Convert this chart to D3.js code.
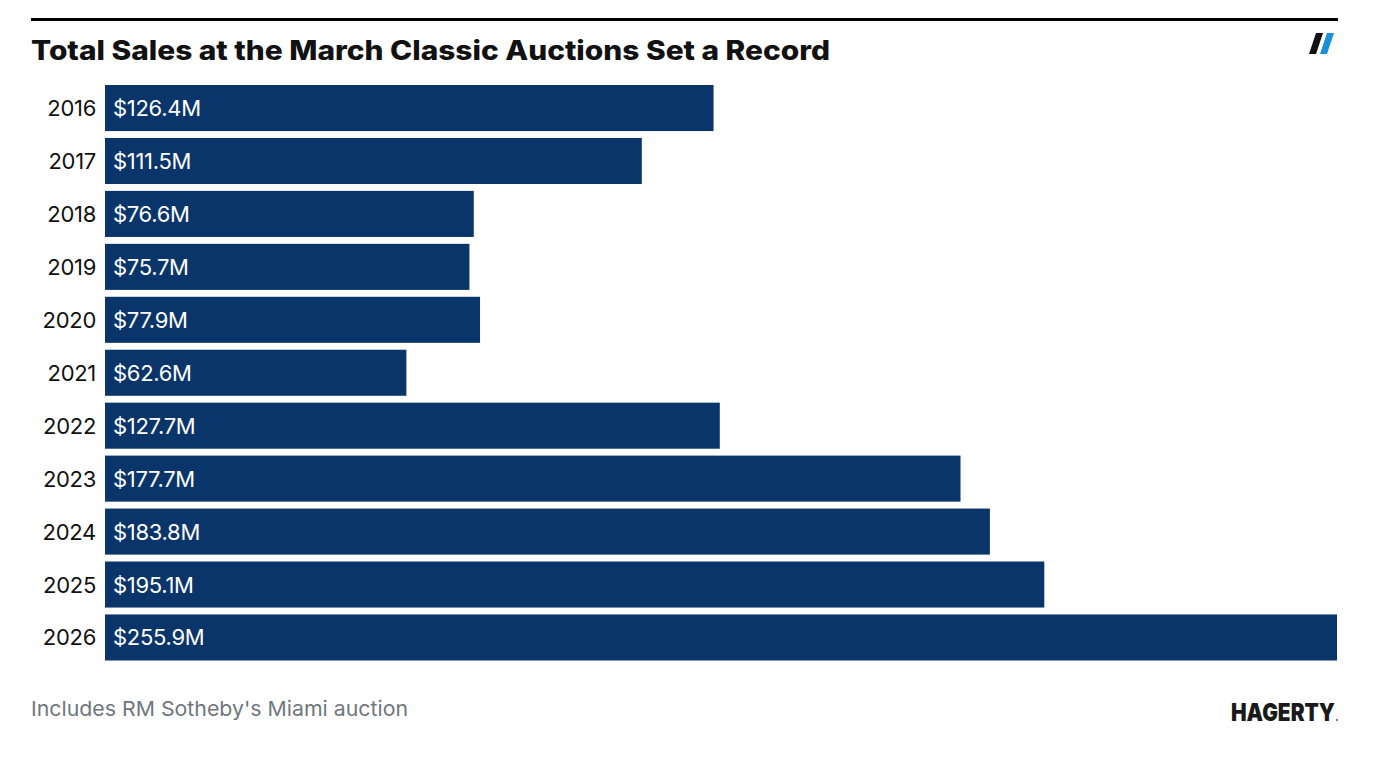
<!DOCTYPE html>
<html><head><meta charset="utf-8">
<script src="https://cdn.jsdelivr.net/npm/d3@7"></script>
<style>html,body{margin:0;padding:0;background:#fff;}svg{display:block;}</style>
</head><body>
<svg id="chart" width="1374" height="758"></svg>
<script>
const years = ["2016","2017","2018","2019","2020","2021","2022","2023","2024","2025","2026"];
const sales = [126.4,111.5,76.6,75.7,77.9,62.6,127.7,177.7,183.8,195.1,255.9];
const valueLabels = ["$126.4M","$111.5M","$76.6M","$75.7M","$77.9M","$62.6M","$127.7M","$177.7M","$183.8M","$195.1M","$255.9M"];
const title = "Total Sales at the March Classic Auctions Set a Record";
const note = "Includes RM Sotheby's Miami auction";

const svg = d3.select("#chart");
const font = "Inter, 'Noto Sans', sans-serif";

// top rule
svg.append("rect").attr("x",31).attr("y",18).attr("width",1307).attr("height",3).attr("fill","#000");
svg.append("text").attr("x",31).attr("y",60).text(title)
  .attr("font-family",font).attr("font-weight",800).attr("font-size",27).attr("fill","#111")
  .attr("textLength",799).attr("lengthAdjust","spacingAndGlyphs");

// slash logo
const logo = svg.append("g");
logo.append("path").attr("d","M1316,33 L1323,33 L1316,54 L1309,54 Z").attr("fill","#111");
logo.append("path").attr("d","M1327,33 L1334,33 L1327,54 L1320,54 Z").attr("fill","#1b8fd8");

const x = d3.scaleLinear().domain([0, d3.max(sales)]).range([105, 1337]);
const y = d3.scaleBand().domain(years).range([85, 660.5]).paddingInner(0.13).paddingOuter(0.0);

svg.append("g").selectAll("rect").data(years).join("rect")
  .attr("x", x(0)).attr("y", d => y(d))
  .attr("width", (d,i) => x(sales[i]) - x(0))
  .attr("height", y.bandwidth())
  .attr("fill","#0a356a");

svg.append("g").selectAll("text").data(years).join("text")
  .attr("x", 96).attr("y", d => y(d) + y.bandwidth()/2 + 8)
  .attr("text-anchor","end").text(d => d)
  .attr("font-family",font).attr("font-size",22).attr("fill","#111").attr("letter-spacing","-0.3");

svg.append("g").selectAll("text").data(years).join("text")
  .attr("x", x(0) + 8).attr("y", d => y(d) + y.bandwidth()/2 + 8)
  .text((d,i) => valueLabels[i])
  .attr("font-family",font).attr("font-size",22).attr("fill","#fff").attr("letter-spacing","-0.3");

svg.append("text").attr("x",31).attr("y",716).text(note)
  .attr("font-family",font).attr("font-size",20.5).attr("fill","#6f767c")
  .attr("textLength",377).attr("lengthAdjust","spacingAndGlyphs");

svg.append("text").attr("x",1231).attr("y",721).text("HAGERTY")
  .attr("font-family",font).attr("font-weight",900)
  .attr("font-size",24).attr("fill","#1a1a1a")
  .attr("textLength",104).attr("lengthAdjust","spacingAndGlyphs");
svg.append("circle").attr("cx",1337).attr("cy",720).attr("r",1).attr("fill","#555");
</script>
</body></html>
